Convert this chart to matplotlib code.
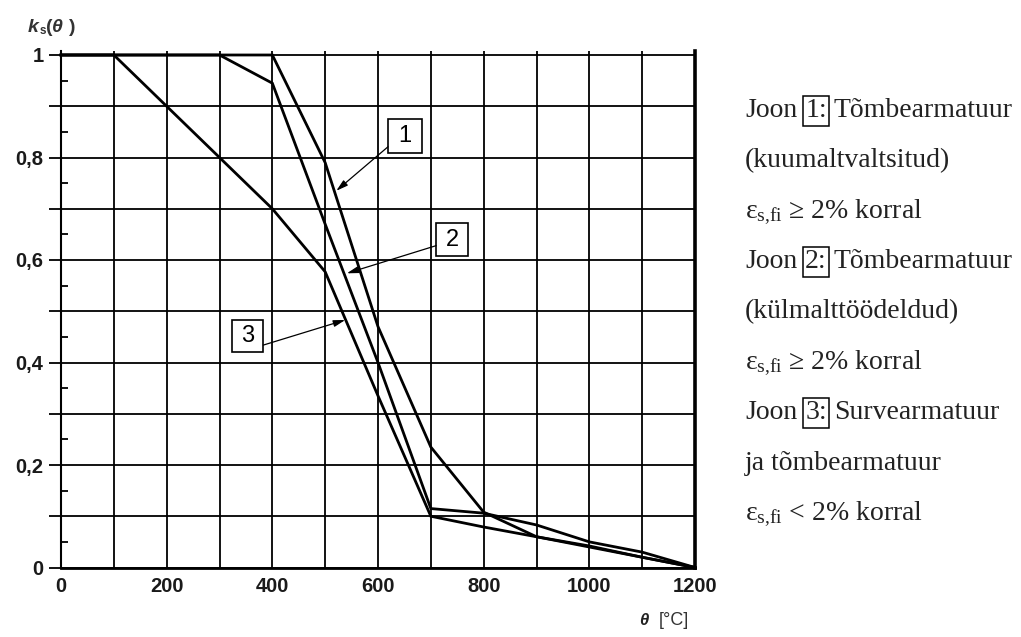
import matplotlib
matplotlib.use("Agg")
import matplotlib.pyplot as plt
from matplotlib.ticker import MultipleLocator, FixedLocator, FuncFormatter
from matplotlib.patches import Rectangle

# ---------------- data ----------------
theta = [0, 100, 200, 300, 400, 500, 600, 700, 800, 900, 1000, 1100, 1200]
ks_curve1 = [1.0, 1.0, 1.0, 1.0, 1.0, 0.79, 0.47, 0.235, 0.108, 0.06, 0.042, 0.02, 0.0]
ks_curve2 = [1.0, 1.0, 1.0, 1.0, 0.945, 0.67, 0.40, 0.115, 0.106, 0.083, 0.05, 0.03, 0.0]
ks_curve3 = [1.0, 1.0, 0.9, 0.8, 0.7, 0.577, 0.335, 0.10, 0.079, 0.06, 0.04, 0.02, 0.0]
curve_labels = ["1", "2", "3"]
x_ticks = [0, 200, 400, 600, 800, 1000, 1200]
y_ticks = [0, 0.2, 0.4, 0.6, 0.8, 1.0]

legend_lines = [
    ("Joon", "1:", "Tõmbearmatuur"),
    "(kuumaltvaltsitud)",
    r"ε$_{\mathrm{s{,}fi}}$ ≥ 2% korral",
    ("Joon", "2:", "Tõmbearmatuur"),
    "(külmalttöödeldud)",
    r"ε$_{\mathrm{s{,}fi}}$ ≥ 2% korral",
    ("Joon", "3:", "Survearmatuur"),
    "ja tõmbearmatuur",
    r"ε$_{\mathrm{s{,}fi}}$ < 2% korral",
]

# ---------------- style ----------------
plt.rcParams["mathtext.fontset"] = "custom"
plt.rcParams["mathtext.rm"] = "Liberation Serif"
plt.rcParams["mathtext.it"] = "Liberation Serif:italic"
plt.rcParams["mathtext.bf"] = "Liberation Serif:bold"

W, H = 1021, 637
fig = plt.figure(figsize=(W / 100, H / 100), dpi=100)

px_left, px_right = 61, 695
px_zero, px_one, px_top = 567.5, 55, 51
ax = fig.add_axes([px_left / W, 1 - px_zero / H,
                   (px_right - px_left) / W, (px_zero - px_top) / H])
ax.set_xlim(0, 1200)
ax.set_ylim(0, (px_zero - px_top) / (px_zero - px_one))

ax.spines["top"].set_visible(False)
ax.spines["left"].set_linewidth(1.5)
ax.spines["bottom"].set_linewidth(2.0)
ax.spines["right"].set_linewidth(2.6)
for s in ax.spines.values():
    s.set_color("black")

ax.xaxis.set_major_locator(MultipleLocator(100))
ax.yaxis.set_major_locator(MultipleLocator(0.1))
ax.yaxis.set_minor_locator(MultipleLocator(0.05))
ax.xaxis.set_minor_locator(FixedLocator([0, 1200]))


def xfmt(v, pos):
    iv = int(round(v))
    return str(iv) if iv in x_ticks else ""


def yfmt(v, pos):
    for t in y_ticks:
        if abs(v - t) < 1e-6:
            if t == 0:
                return "0"
            if t == 1:
                return "1"
            return f"{t:.1f}".replace(".", ",")
    return ""


ax.xaxis.set_major_formatter(FuncFormatter(xfmt))
ax.yaxis.set_major_formatter(FuncFormatter(yfmt))
ax.tick_params(axis="x", which="major", length=0, pad=7)
ax.tick_params(axis="x", which="minor", length=4, width=1.5, direction="out")
ax.tick_params(axis="y", which="major", length=8.6, width=1.3, direction="out", pad=4)
ax.tick_params(axis="y", which="minor", length=5, width=1.3, direction="in")
for lab in ax.get_xticklabels() + ax.get_yticklabels():
    lab.set_fontfamily("Liberation Sans")
    lab.set_fontweight("bold")
    lab.set_fontsize(14.5)
    lab.set_color("#1a1a1a")

ax.grid(True, which="major", color="black", linewidth=1.3)
ax.set_axisbelow(True)

# curves
for ks in (ks_curve1, ks_curve2, ks_curve3):
    ax.plot(theta, ks, color="black", linewidth=2.0, solid_joinstyle="miter", zorder=3,
            clip_on=False)

# numbered label boxes with arrows
boxes = [  # (x0, x1, y0, y1) data, arrow start, arrow tip
    ((619, 683, 0.809, 0.875), (619, 0.821), (521, 0.735)),
    ((710, 770, 0.607, 0.672), (710, 0.628), (541, 0.574)),
    ((324, 383, 0.420, 0.482), (383, 0.434), (538, 0.483)),
]
for lab, ((bx0, bx1, by0, by1), start, tip) in zip(curve_labels, boxes):
    ax.add_patch(Rectangle((bx0, by0), bx1 - bx0, by1 - by0, facecolor="white",
                           edgecolor="black", linewidth=1.2, zorder=4))
    ax.text((bx0 + bx1) / 2, (by0 + by1) / 2, lab, ha="center", va="center",
            fontsize=17, fontfamily="Liberation Sans", zorder=5)
    ax.annotate("", xy=tip, xytext=start, zorder=4,
                arrowprops=dict(arrowstyle="-|>,head_length=0.7,head_width=0.2",
                                color="black", lw=0.9, shrinkA=0, shrinkB=0))

# axis titles
c_lab = "#333333"
fig.text(28 / W, 1 - 32 / H, "k", fontfamily="Liberation Sans", fontweight="bold",
         fontstyle="italic", fontsize=14, color=c_lab, va="baseline")
fig.text(39.5 / W, 1 - 34 / H, "s", fontfamily="Liberation Sans", fontweight="bold",
         fontsize=8.5, color=c_lab, va="baseline")
fig.text(46 / W, 1 - 32 / H, "(", fontfamily="Liberation Sans", fontweight="bold",
         fontsize=14, color=c_lab, va="baseline")
fig.text(52 / W, 1 - 32 / H, "θ", fontfamily="Liberation Sans", fontweight="bold",
         fontstyle="italic", fontsize=14, color=c_lab, va="baseline")
fig.text(69 / W, 1 - 32 / H, ")", fontfamily="Liberation Sans", fontweight="bold",
         fontsize=14, color=c_lab, va="baseline")

fig.text(648 / W, 1 - 625 / H, "θ", fontfamily="Liberation Sans", fontweight="bold",
         fontstyle="italic", fontsize=12, color="#222222", va="baseline", ha="right")
fig.text(659 / W, 1 - 625 / H, "[°C]", fontfamily="Liberation Sans",
         fontsize=13, color="#333333", va="baseline", ha="left")

# right-hand explanation text
text_x = 745
base0, step = 117, 50.4
fs = 20
for i, line in enumerate(legend_lines):
    yb = 1 - (base0 + i * step) / H
    if isinstance(line, tuple):
        pre, boxed, post = line
        t1 = fig.text(text_x / W, yb, pre, fontfamily="Liberation Serif", fontsize=fs,
                      va="baseline", color="#222222")
        t2 = fig.text(0, yb, boxed, fontfamily="Liberation Serif", fontsize=fs,
                      va="baseline", color="#222222",
                      bbox=dict(boxstyle="square,pad=0.09", fc="none", ec="black", lw=1.1))
        t3 = fig.text(0, yb, post, fontfamily="Liberation Serif", fontsize=fs,
                      va="baseline", color="#222222")
        fig.canvas.draw()
        r = fig.canvas.get_renderer()
        e1 = t1.get_window_extent(r)
        sp = 0.25 * fs * 100 / 72
        t2.set_x((e1.x1 + sp + 1) / W)
        fig.canvas.draw()
        e2 = t2.get_window_extent(r)
        t3.set_x((e2.x1 + sp) / W)
    else:
        fig.text(text_x / W, yb, line, fontfamily="Liberation Serif", fontsize=fs,
                 va="baseline", color="#222222")

fig.savefig("out.png", dpi=100)
